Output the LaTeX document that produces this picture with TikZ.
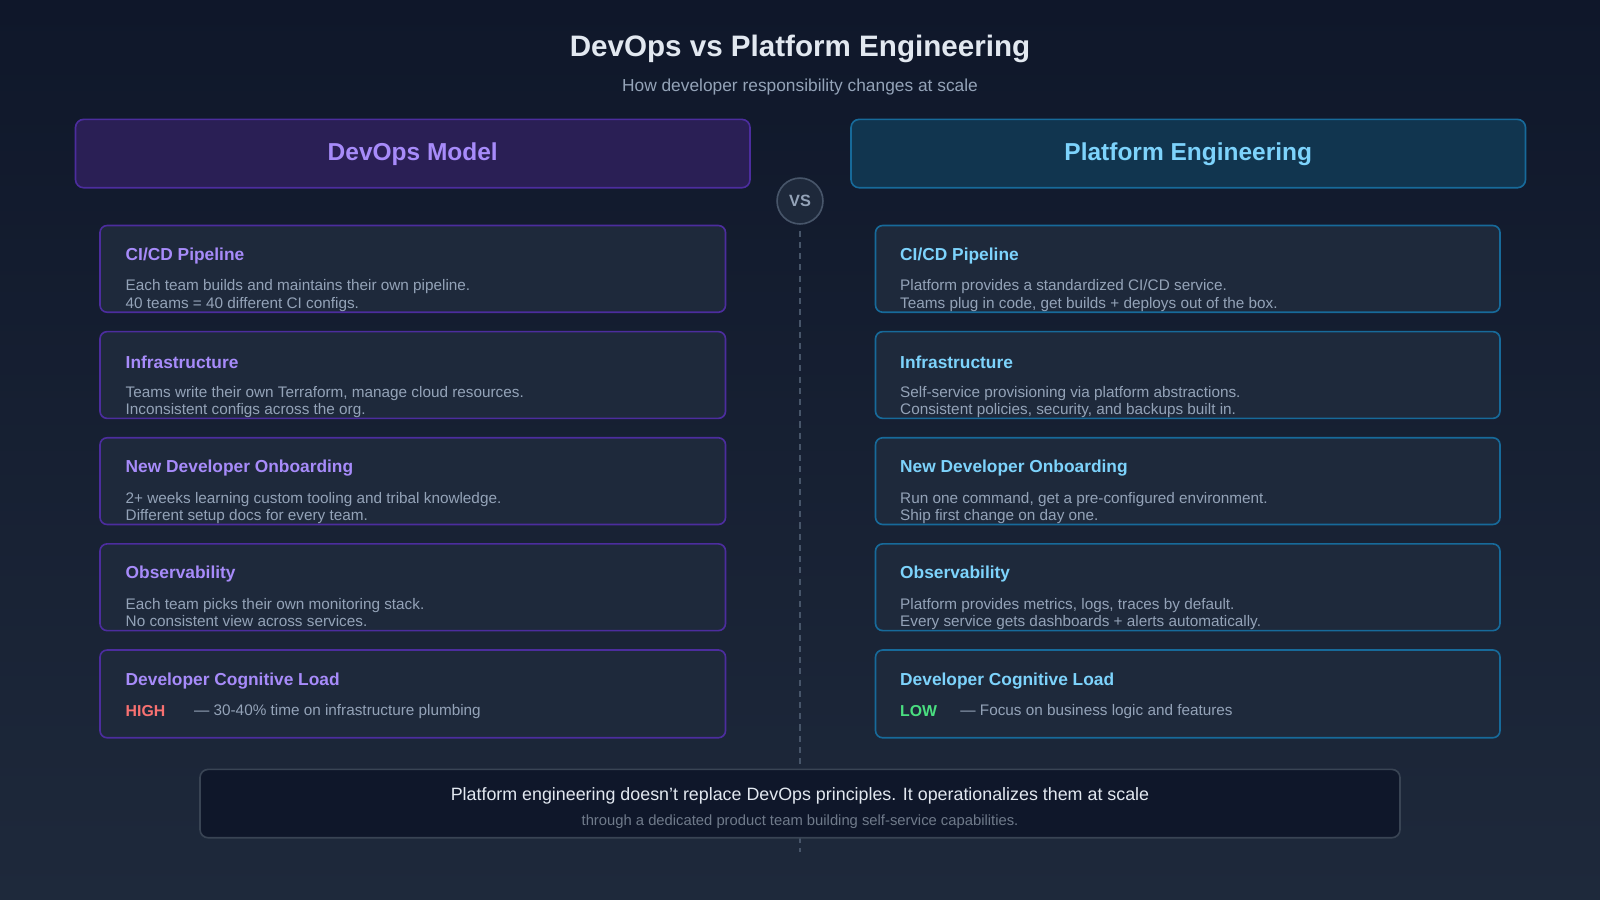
\documentclass[tikz,border=0pt]{standalone}
\usepackage{fontspec}
\setmainfont{Liberation Sans}
\definecolor{bgtop}{HTML}{0F172A}
\definecolor{bgbot}{HTML}{1E293B}
\definecolor{card}{HTML}{1E293B}
\definecolor{pborder}{HTML}{4C2D9E}
\definecolor{bborder}{HTML}{176A9A}
\definecolor{ptext}{HTML}{A78BFA}
\definecolor{btext}{HTML}{7DD3FC}
\definecolor{body}{HTML}{94A3B8}
\definecolor{titlec}{HTML}{E2E8F0}
\definecolor{phead}{HTML}{2A1F55}
\definecolor{bhead}{HTML}{11354F}
\definecolor{high}{HTML}{F87171}
\definecolor{low}{HTML}{4ADE80}
\definecolor{dashc}{HTML}{475569}
\definecolor{bottomfill}{HTML}{0F172A}
\begin{document}
\begin{tikzpicture}[x=1pt,y=-1pt,
  cardL/.style={draw=pborder,fill=card,line width=1.6pt,rounded corners=7pt},
  cardR/.style={draw=bborder,fill=card,line width=1.6pt,rounded corners=7pt},
  ctitle/.style={anchor=west,inner sep=0pt,font=\fontsize{17}{20}\selectfont\bfseries},
  cbody/.style={anchor=north west,inner sep=0pt,align=left,text=body,font=\fontsize{15}{17}\selectfont},
]
\shade[top color=bgtop,bottom color=bgbot] (0,0) rectangle (1568,882);
\useasboundingbox (0,0) rectangle (1568,882);
\node[text=titlec,font=\fontsize{29}{34}\selectfont\bfseries] (title) at (784,48) {DevOps vs Platform Engineering};
\node[text=body,font=\fontsize{17}{20}\selectfont] (sub) at (784,85) {How developer responsibility changes at scale};
\draw[dashc,line width=1.5pt,dash pattern=on 6pt off 5pt] (784,226) coordinate (d1) -- (784,835) coordinate (d2);
\draw[draw=pborder,fill=phead,line width=1.6pt,rounded corners=8pt] (74,117) rectangle (735,184);
\node[text=ptext,font=\fontsize{24}{28}\selectfont\bfseries] (hl) at (404.5,151) {DevOps Model};
\draw[draw=bborder,fill=bhead,line width=1.6pt,rounded corners=8pt] (834,117) rectangle (1495,184);
\node[text=btext,font=\fontsize{24}{28}\selectfont\bfseries] (hr) at (1164.5,151) {Platform Engineering};
\node[circle,draw=dashc,fill=card,line width=1.6pt,minimum size=45pt,text=body,font=\fontsize{16}{18}\selectfont\bfseries] (vs) at (784,197) {VS};
\foreach \y/\t/\a/\b/\c/\d in {
 221/{CI\slash CD Pipeline}/{Each team builds and maintains their own pipeline.}/{40 teams = 40 different CI configs.}/{Platform provides a standardized CI\slash CD service.}/{Teams plug in code, get builds + deploys out of the box.},
 325/{Infrastructure}/{Teams write their own Terraform, manage cloud resources.}/{Inconsistent configs across the org.}/{Self-service provisioning via platform abstractions.}/{Consistent policies, security, and backups built in.},
 429/{New Developer Onboarding}/{2+ weeks learning custom tooling and tribal knowledge.}/{Different setup docs for every team.}/{Run one command, get a pre-configured environment.}/{Ship first change on day one.},
 533/{Observability}/{Each team picks their own monitoring stack.}/{No consistent view across services.}/{Platform provides metrics, logs, traces by default.}/{Every service gets dashboards + alerts automatically.}}{
  \draw[cardL] (98,\y) rectangle (711,\y+85);
  \node[ctitle,text=ptext] at (123,\y+30) {\t};
  \node[cbody] at (123,\y+53) {\a\\\b};
  \draw[cardR] (858,\y) rectangle (1470,\y+85);
  \node[ctitle,text=btext] at (882,\y+30) {\t};
  \node[cbody] at (882,\y+53) {\c\\\d};
}
\draw[cardL] (98,637) rectangle (711,723);
\node[ctitle,text=ptext] (lt) at (123,667) {Developer Cognitive Load};
\node[ctitle,text=high,font=\fontsize{15.5}{18}\selectfont\bfseries] (hi) at (123,697) {HIGH};
\node[ctitle,text=body,font=\fontsize{15}{17}\selectfont] (hit) at (190,697) {— 30-40\% time on infrastructure plumbing};
\draw[cardR] (858,637) rectangle (1470,723);
\node[ctitle,text=btext] (rt) at (882,667) {Developer Cognitive Load};
\node[ctitle,text=low,font=\fontsize{15.5}{18}\selectfont\bfseries] (lo) at (882,697) {LOW};
\node[ctitle,text=body,font=\fontsize{15}{17}\selectfont] (lot) at (941,697) {— Focus on business logic and features};
\draw[draw=dashc!80!black,fill=bottomfill,line width=1.6pt,rounded corners=8pt] (196,754) rectangle (1372,821);
\node[text=titlec,font=\fontsize{17.5}{20}\selectfont] (b1) at (784,780) {Platform engineering doesn't replace DevOps principles. It operationalizes them at scale};
\node[text=body!75!black,font=\fontsize{14.5}{17}\selectfont] (b2) at (784,805) {through a dedicated product team building self-service capabilities.};
\end{tikzpicture}
\end{document}
